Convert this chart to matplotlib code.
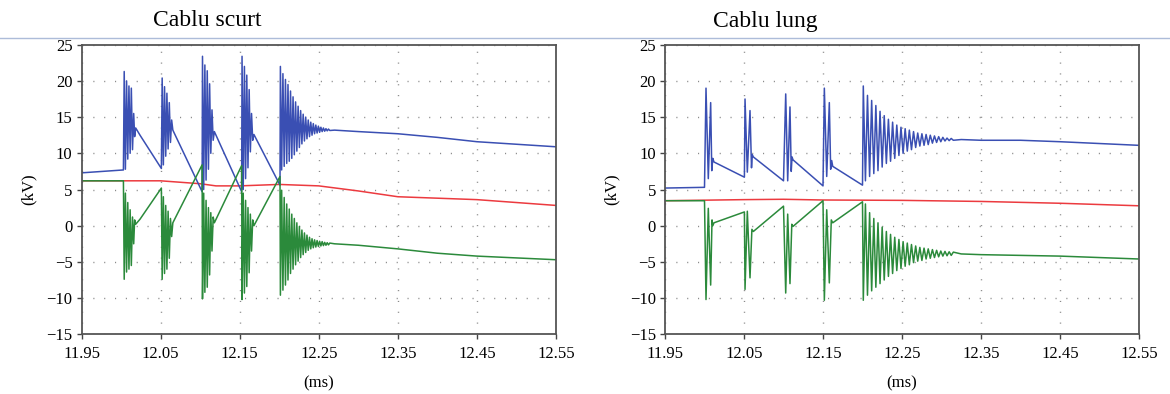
import matplotlib
matplotlib.use("Agg")
import matplotlib.pyplot as plt
from matplotlib.lines import Line2D

# ---------------- data (kV vs ms) ----------------
titles = ["Cablu scurt", "Cablu lung"]
x_ticks = [11.95, 12.05, 12.15, 12.25, 12.35, 12.45, 12.55]
y_ticks = [-15, -10, -5, 0, 5, 10, 15, 20, 25]

# Left panel: short cable
short_blue = [
    (11.950, 7.3), (12.003, 7.7),
    (12.0040, 21.3), (12.0055, 7.8), (12.0070, 20.0), (12.0085, 9.2), (12.0100, 19.3),
    (12.0115, 10.0), (12.0130, 19.0), (12.0145, 10.5), (12.0160, 15.5), (12.0172, 12.3),
    (12.0185, 13.5), (12.0240, 12.5), (12.0510, 7.9),
    (12.0520, 20.4), (12.0535, 8.4), (12.0550, 19.2), (12.0565, 9.6), (12.0580, 18.3),
    (12.0595, 10.6), (12.0610, 17.0), (12.0625, 11.5), (12.0640, 14.6), (12.0655, 13.2),
    (12.1025, 4.7),
    (12.1030, 23.4), (12.1045, 5.0), (12.1060, 22.2), (12.1075, 6.3), (12.1090, 21.4),
    (12.1105, 7.8), (12.1120, 19.6), (12.1135, 10.0), (12.1150, 16.0), (12.1165, 11.8),
    (12.1180, 13.0), (12.1525, 4.7),
    (12.1530, 23.4), (12.1545, 5.0), (12.1560, 22.0), (12.1575, 6.5), (12.1590, 20.8),
    (12.1605, 8.0), (12.1620, 18.8), (12.1635, 10.2), (12.1650, 15.5), (12.1665, 11.8),
    (12.1680, 12.6), (12.2010, 5.6),
    (12.2015, 22.0), (12.2031, 7.7), (12.2047, 21.0), (12.2063, 8.2), (12.2079, 20.2),
    (12.2095, 8.6), (12.2111, 19.5), (12.2127, 8.9), (12.2143, 18.6), (12.2159, 9.3),
    (12.2175, 17.8), (12.2191, 9.8), (12.2207, 17.1), (12.2223, 10.3), (12.2239, 16.5),
    (12.2255, 10.8), (12.2271, 15.9), (12.2287, 11.3), (12.2303, 15.4), (12.2319, 11.7),
    (12.2335, 15.0), (12.2351, 12.0), (12.2367, 14.6), (12.2383, 12.3), (12.2399, 14.3),
    (12.2415, 12.5), (12.2431, 14.1), (12.2447, 12.7), (12.2463, 13.9), (12.2479, 12.8),
    (12.2495, 13.75), (12.2511, 12.9), (12.2527, 13.6), (12.2543, 13.0), (12.2559, 13.5),
    (12.2575, 13.05), (12.2591, 13.4), (12.2607, 13.1), (12.2623, 13.35), (12.2639, 13.15),
    (12.270, 13.2), (12.300, 13.0), (12.350, 12.7), (12.400, 12.2), (12.450, 11.6),
    (12.550, 10.9),
]
short_green = [
    (11.950, 6.2), (12.003, 6.2),
    (12.0040, -7.4), (12.0055, 4.5), (12.0070, -6.4), (12.0085, 3.2), (12.0100, -6.0),
    (12.0115, 2.2), (12.0130, -5.5), (12.0145, 1.2), (12.0160, -2.5), (12.0172, 0.8),
    (12.0185, 0.2), (12.0240, 0.9), (12.0510, 5.2),
    (12.0520, -7.4), (12.0535, 4.0), (12.0550, -6.6), (12.0565, 2.8), (12.0580, -6.0),
    (12.0595, 2.0), (12.0610, -4.5), (12.0625, 1.0), (12.0640, -1.5), (12.0655, 0.4),
    (12.1025, 8.4),
    (12.1030, -10.1), (12.1045, 4.5), (12.1060, -9.2), (12.1075, 3.5), (12.1090, -8.5),
    (12.1105, 2.5), (12.1120, -6.8), (12.1135, 1.8), (12.1150, -3.5), (12.1165, 1.2),
    (12.1180, 0.4), (12.1525, 8.3),
    (12.1530, -10.2), (12.1545, 4.5), (12.1560, -9.3), (12.1575, 3.5), (12.1590, -8.4),
    (12.1605, 2.5), (12.1620, -6.5), (12.1635, 1.6), (12.1650, -3.5), (12.1665, 0.8),
    (12.1680, 0.0), (12.2010, 6.8),
    (12.2015, -9.6), (12.2031, 4.9), (12.2047, -8.9), (12.2063, 3.9), (12.2079, -8.2),
    (12.2095, 3.0), (12.2111, -7.5), (12.2127, 2.3), (12.2143, -6.6), (12.2159, 1.6),
    (12.2175, -6.0), (12.2191, 1.0), (12.2207, -5.4), (12.2223, 0.4), (12.2239, -4.9),
    (12.2255, -0.1), (12.2271, -4.4), (12.2287, -0.6), (12.2303, -4.0), (12.2319, -1.0),
    (12.2335, -3.7), (12.2351, -1.3), (12.2367, -3.4), (12.2383, -1.6), (12.2399, -3.2),
    (12.2415, -1.8), (12.2431, -3.05), (12.2447, -1.95), (12.2463, -2.95), (12.2479, -2.05),
    (12.2495, -2.85), (12.2511, -2.15), (12.2527, -2.8), (12.2543, -2.2), (12.2559, -2.75),
    (12.2575, -2.3), (12.2591, -2.7), (12.2607, -2.35), (12.2623, -2.65), (12.2639, -2.4),
    (12.270, -2.5), (12.300, -2.7), (12.350, -3.2), (12.400, -3.8), (12.450, -4.2),
    (12.550, -4.7),
]
short_red = [
    (11.95, 6.2), (12.05, 6.2), (12.10, 5.8), (12.12, 5.5), (12.15, 5.5), (12.20, 5.7),
    (12.25, 5.5), (12.30, 4.8), (12.35, 4.0), (12.45, 3.6), (12.55, 2.8),
]

# Right panel: long cable
long_blue = [
    (11.950, 5.2), (12.0000, 5.3),
    (12.0019, 19.0), (12.0048, 6.5), (12.0078, 17.0), (12.0092, 7.6), (12.0105, 9.3),
    (12.0120, 8.8), (12.0505, 6.7),
    (12.0513, 17.5), (12.0542, 7.4), (12.0576, 15.9), (12.0595, 8.0), (12.0605, 9.8),
    (12.0618, 9.5), (12.1000, 6.2),
    (12.1028, 18.2), (12.1053, 6.2), (12.1082, 16.4), (12.1098, 7.5), (12.1108, 9.5),
    (12.1120, 9.1), (12.1500, 5.5),
    (12.1517, 19.0), (12.1547, 6.8), (12.1580, 17.0), (12.1597, 7.8), (12.1610, 9.0),
    (12.1623, 8.2), (12.2000, 5.6),
    (12.2010, 19.3), (12.2037, 6.2), (12.2063, 18.0), (12.2090, 6.8), (12.2116, 17.3),
    (12.2143, 7.2), (12.2169, 16.6), (12.2196, 7.6), (12.2222, 15.8), (12.2249, 8.1),
    (12.2275, 15.2), (12.2302, 8.6), (12.2328, 14.7), (12.2355, 8.9), (12.2381, 14.3),
    (12.2408, 9.3), (12.2434, 13.9), (12.2461, 9.7), (12.2487, 13.6), (12.2514, 10.0),
    (12.2540, 13.4), (12.2567, 10.3), (12.2593, 13.2), (12.2620, 10.5), (12.2646, 13.0),
    (12.2673, 10.8), (12.2699, 12.8), (12.2726, 11.0), (12.2752, 12.7), (12.2779, 11.1),
    (12.2805, 12.6), (12.2832, 11.2), (12.2858, 12.5), (12.2885, 11.4), (12.2911, 12.4),
    (12.2938, 11.5), (12.2964, 12.3), (12.2991, 11.6), (12.3017, 12.2), (12.3044, 11.7),
    (12.3070, 12.1), (12.3097, 11.75), (12.3123, 12.05), (12.3150, 11.8),
    (12.325, 11.9), (12.350, 11.8), (12.400, 11.8), (12.450, 11.6), (12.550, 11.1),
]
long_green = [
    (11.950, 3.45), (12.0000, 3.45),
    (12.0019, -10.2), (12.0048, 2.4), (12.0078, -8.2), (12.0095, 0.8), (12.0105, 0.0),
    (12.0120, 0.4), (12.0505, 1.9),
    (12.0513, -8.8), (12.0542, 2.0), (12.0576, -7.2), (12.0600, -0.5), (12.0618, -0.8),
    (12.1000, 2.7),
    (12.1028, -9.3), (12.1053, 1.6), (12.1082, -8.0), (12.1105, 0.2), (12.1120, -0.1),
    (12.1500, 3.45),
    (12.1517, -10.3), (12.1547, 2.2), (12.1580, -7.9), (12.1605, 0.8), (12.1623, 0.4),
    (12.2000, 3.3),
    (12.2010, -10.3), (12.2037, 3.0), (12.2063, -9.6), (12.2090, 1.8), (12.2116, -9.0),
    (12.2143, 1.0), (12.2169, -8.5), (12.2196, 0.4), (12.2222, -8.0), (12.2249, -0.2),
    (12.2275, -7.5), (12.2302, -0.8), (12.2328, -7.0), (12.2355, -1.2), (12.2381, -6.6),
    (12.2408, -1.6), (12.2434, -6.2), (12.2461, -1.9), (12.2487, -5.9), (12.2514, -2.2),
    (12.2540, -5.6), (12.2567, -2.4), (12.2593, -5.4), (12.2620, -2.6), (12.2646, -5.1),
    (12.2673, -2.8), (12.2699, -4.9), (12.2726, -3.0), (12.2752, -4.8), (12.2779, -3.1),
    (12.2805, -4.6), (12.2832, -3.2), (12.2858, -4.5), (12.2885, -3.3), (12.2911, -4.4),
    (12.2938, -3.4), (12.2964, -4.3), (12.2991, -3.5), (12.3017, -4.2), (12.3044, -3.55),
    (12.3070, -4.15), (12.3097, -3.6), (12.3123, -4.1), (12.3150, -3.65),
    (12.325, -3.9), (12.350, -4.0), (12.400, -4.1), (12.450, -4.2), (12.550, -4.6),
]
long_red = [
    (11.95, 3.45), (12.05, 3.6), (12.10, 3.65), (12.15, 3.55), (12.25, 3.5),
    (12.35, 3.35), (12.45, 3.1), (12.55, 2.75),
]

# ---------------- styling ----------------
BLUE = "#3a4fb3"
GREEN = "#2b8a3b"
RED = "#ec3a3f"
SERIF = ["Liberation Serif", "DejaVu Serif"]
plt.rcParams["font.family"] = SERIF

W, H = 1170, 394
fig = plt.figure(figsize=(W / 100, H / 100), dpi=100)

panels = [
    (short_blue, short_green, short_red, 81.5, 556.0),
    (long_blue, long_green, long_red, 665.0, 1139.0),
]
top_px, bot_px = 44.7, 334.3

def unzip(pairs):
    return [p[0] for p in pairs], [p[1] for p in pairs]

for i, (blue, green, red, x0, x1) in enumerate(panels):
    ax = fig.add_axes([x0 / W, 1 - bot_px / H, (x1 - x0) / W, (bot_px - top_px) / H])
    for series, col in ((red, RED), (blue, BLUE), (green, GREEN)):
        t, v = unzip(series)
        ax.plot(t, v, color=col, lw=1.1, solid_joinstyle="round")
    ax.set_xlim(11.95, 12.55)
    ax.set_ylim(-15, 25)
    ax.set_xticks(x_ticks)
    ax.set_xticklabels([f"{x:.2f}" for x in x_ticks])
    ax.set_yticks(y_ticks)
    ax.set_yticklabels([str(y).replace("-", "\u2212") for y in y_ticks])
    ax.tick_params(direction="out", length=3.5, width=1.0, color="#444444",
                   labelsize=12)
    ax.tick_params(axis="x", pad=5)
    ax.tick_params(axis="y", pad=3)
    ax.grid(True, color="#8a8a8a", linestyle=(0, (0.8, 7.0)), linewidth=1.0)
    for sp in ax.spines.values():
        sp.set_color("#555555")
        sp.set_linewidth(1.3)
    ax.set_xlabel("(ms)", fontsize=12, labelpad=9.5)
    ax.set_ylabel("(kV)", fontsize=12, labelpad=7)

fig.text(207 / W, 1 - 21 / H, titles[0], ha="center", va="center", fontsize=17)
fig.text(765 / W, 1 - 21 / H, titles[1], ha="center", va="center", fontsize=17)
fig.add_artist(Line2D([0, 1], [1 - 38 / H, 1 - 38 / H], transform=fig.transFigure,
                      color="#adbcd9", lw=1.0))

fig.savefig("out.png", dpi=100)
